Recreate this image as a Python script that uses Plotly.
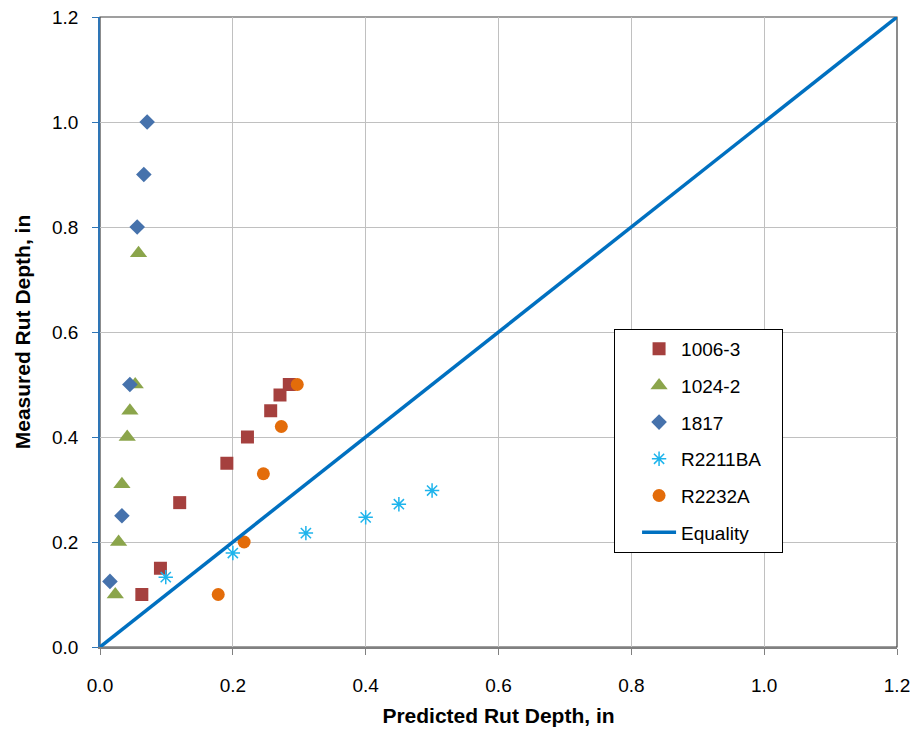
import plotly.graph_objects as go

# Data
x_1006 = [0.063, 0.091, 0.120, 0.191, 0.222, 0.257, 0.271, 0.285]
y_1006 = [0.100, 0.150, 0.275, 0.350, 0.400, 0.450, 0.480, 0.500]

x_1024 = [0.023, 0.028, 0.033, 0.041, 0.045, 0.053, 0.058]
y_1024 = [0.100, 0.200, 0.310, 0.400, 0.450, 0.500, 0.750]

x_1817 = [0.015, 0.033, 0.045, 0.056, 0.066, 0.071]
y_1817 = [0.125, 0.250, 0.500, 0.800, 0.900, 1.000]

x_r2211 = [0.099, 0.200, 0.310, 0.400, 0.450, 0.500]
y_r2211 = [0.133, 0.179, 0.217, 0.247, 0.272, 0.298]

x_r2232 = [0.178, 0.217, 0.246, 0.273, 0.297]
y_r2232 = [0.100, 0.200, 0.330, 0.420, 0.500]

x_eq = [0.0, 1.2]
y_eq = [0.0, 1.2]

tick_vals = [0.0, 0.2, 0.4, 0.6, 0.8, 1.0, 1.2]
tick_text = ["0.0", "0.2", "0.4", "0.6", "0.8", "1.0", "1.2"]

FONT = "Liberation Sans, Arial, sans-serif"

fig = go.Figure()
fig.add_trace(go.Scatter(x=x_1006, y=y_1006, mode="markers", name="1006-3", legendgroup="a",
                         marker=dict(symbol="square", size=13, color="#A5403E")))
fig.add_trace(go.Scatter(x=x_1024, y=y_1024, mode="markers", name="1024-2", legendgroup="b",
                         marker=dict(symbol="triangle-up", size=15, color="#8BA54B")))
fig.add_trace(go.Scatter(x=x_1817, y=y_1817, mode="markers", name="1817", legendgroup="c",
                         marker=dict(symbol="diamond", size=12, color="#4672AC")))
fig.add_trace(go.Scatter(x=x_r2211, y=y_r2211, mode="markers", name="R2211BA\u00a0\u00a0\u00a0", legendgroup="d",
                         marker=dict(symbol="asterisk-open", size=12, color="#1EB4EC",
                                     line=dict(color="#1EB4EC", width=1.5))))
fig.add_trace(go.Scatter(x=x_r2232, y=y_r2232, mode="markers", name="R2232A", legendgroup="e",
                         marker=dict(symbol="circle", size=13, color="#E36C0A")))
fig.add_trace(go.Scatter(x=x_eq, y=y_eq, mode="lines", name="Equality", legendgroup="f",
                         line=dict(color="#0070C0", width=3.5)))

fig.update_layout(
    width=919, height=738,
    margin=dict(l=100, r=22, t=17, b=91),
    paper_bgcolor="white", plot_bgcolor="white",
    font=dict(family=FONT, size=19, color="black"),
    showlegend=True,
    legend=dict(x=0.645, y=0.505, xanchor="left", yanchor="top",
                bgcolor="white", bordercolor="black", borderwidth=1,
                font=dict(family=FONT, size=19, color="black"),
                tracegroupgap=9, itemwidth=34, indentation=22),
    xaxis=dict(range=[0, 1.2], tickvals=tick_vals, ticktext=tick_text,
               showgrid=True, gridcolor="#C0C0C0", gridwidth=1, zeroline=False,
               showline=True, linecolor="#808080", linewidth=1.5,
               ticks="outside", ticklen=6, tickcolor="#808080",
               ticklabelstandoff=14, automargin=False,
               title=dict(text="<b>Predicted Rut Depth, in</b>", font=dict(size=21), standoff=14),
               fixedrange=True),
    yaxis=dict(range=[0, 1.2], tickvals=tick_vals, ticktext=tick_text,
               showgrid=True, gridcolor="#C0C0C0", gridwidth=1, zeroline=False,
               showline=True, linecolor="#2E75B6", linewidth=1.5,
               ticks="outside", ticklen=6, tickcolor="#2E75B6",
               ticklabelstandoff=10, automargin=False,
               title=dict(text="<b>Measured Rut Depth, in</b>", font=dict(size=21), standoff=16),
               fixedrange=True),
    shapes=[dict(type="rect", xref="paper", yref="paper", x0=0, y0=0, x1=1, y1=1,
                 line=dict(color="#404040", width=1.2), layer="below")],
)

fig.write_html("out.html")
